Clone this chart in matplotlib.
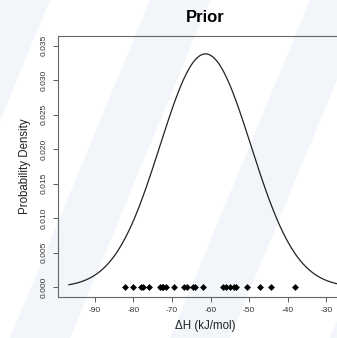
import numpy as np
import matplotlib
matplotlib.use("Agg")
import matplotlib.pyplot as plt

# prior parameters
prior_mean = -61.3
prior_sd = 11.8

# observed values plotted along the bottom
obs = [-82.2, -80.0, -78.1, -77.4, -76.0, -73.2, -72.7, -72.2, -71.6, -69.5,
       -66.8, -66.1, -64.6, -64.1, -62.0, -56.8, -56.0, -55.0, -54.0, -53.3,
       -50.6, -47.3, -44.3, -38.0]

xticks = [-90, -80, -70, -60, -50, -40, -30]
yticks = [0.000, 0.005, 0.010, 0.015, 0.020, 0.025, 0.030, 0.035]


def main():
    plt.rcParams['font.family'] = ['Liberation Sans', 'DejaVu Sans']
    fig = plt.figure(figsize=(3.37, 3.38), dpi=100)
    fig.patch.set_facecolor('white')

    # faint diagonal watermark bands behind everything
    bg = fig.add_axes([0, 0, 1, 1], zorder=-1)
    bg.set_xlim(0, 337)
    bg.set_ylim(0, 338)
    bg.axis('off')
    for x0 in [-150, 10, 170, 330]:
        bg.fill([x0, x0 + 60, x0 + 200, x0 + 140], [0, 0, 338, 338],
                color='#f2f5f9', lw=0)

    ax = fig.add_axes([58 / 337, 41 / 338, 295 / 337, 261 / 338])
    ax.patch.set_alpha(0)

    x = np.linspace(prior_mean - 3 * prior_sd, prior_mean + 3 * prior_sd, 400)
    y = np.exp(-0.5 * ((x - prior_mean) / prior_sd) ** 2) / (prior_sd * np.sqrt(2 * np.pi))
    ax.plot(x, y, color='#222222', lw=0.9)
    ax.plot(obs, [0] * len(obs), 'D', color='black', markersize=3.5, markeredgewidth=0)

    span = x[-1] - x[0]
    ax.set_xlim(x[0] - 0.04 * span, x[-1] + 0.04 * span)
    ax.set_ylim(-0.0014, 0.0364)
    ax.set_xticks(xticks)
    ax.set_yticks(yticks)
    ax.set_xticklabels([str(v) for v in xticks], fontsize=6, color='#333333')
    ax.set_yticklabels(['%.3f' % v for v in yticks], fontsize=6, color='#333333',
                       rotation=90, va='center')
    ax.tick_params(length=3.5, width=0.6, color='#444444', pad=4)

    for s in ax.spines.values():
        s.set_linewidth(0.8)
        s.set_color('#666666')

    ax.set_xlabel('ΔH (kJ/mol)', fontsize=8.3, color='#222222', labelpad=4)
    ax.set_ylabel('Probability Density', fontsize=8.3, color='#222222', labelpad=7)
    fig.text(205 / 337, 1 - 17 / 338, 'Prior', fontsize=12, fontweight='bold',
             ha='center', va='center')

    fig.savefig('out.png', dpi=100)


if __name__ == "__main__":
    main()
